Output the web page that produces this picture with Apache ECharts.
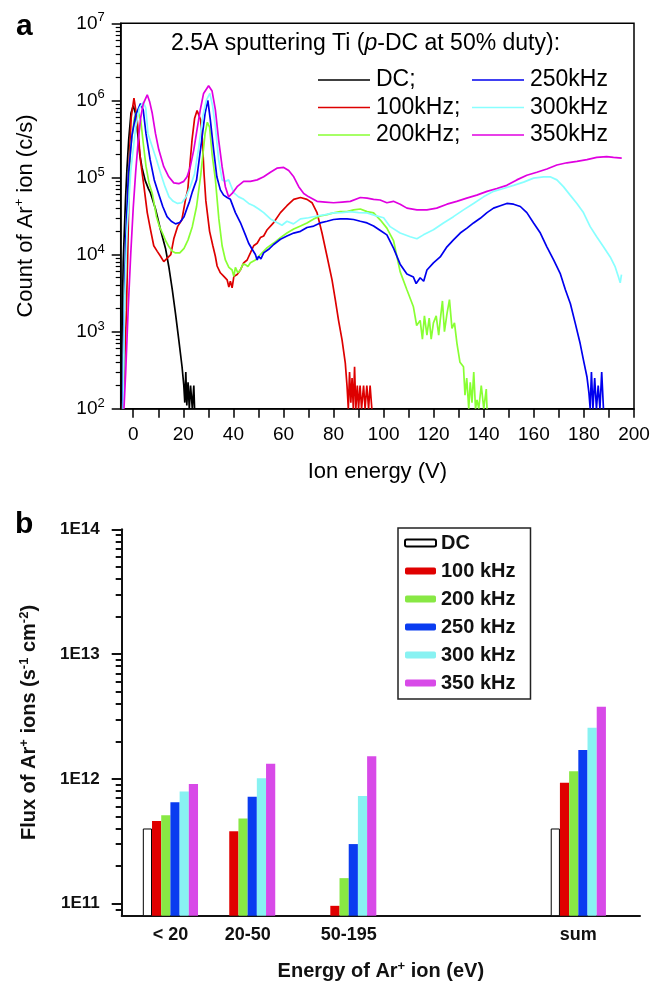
<!DOCTYPE html>
<html><head><meta charset="utf-8">
<script src="https://cdn.jsdelivr.net/npm/echarts@6/dist/echarts.min.js"></script>
<style>html,body{margin:0;padding:0;background:#fff}#c{width:662px;height:986px}</style>
</head><body><div id="c"></div>
<script>
const FONT = '"Liberation Sans", Arial, sans-serif';

// ---------- panel a: ion energy distributions ----------
const energyLabelValues = [0, 20, 40, 60, 80, 100, 120, 140, 160, 180, 200];
const energyTickValues = [0, 10, 20, 30, 40, 50, 60, 70, 80, 90, 100, 110, 120, 130, 140, 150, 160, 170, 180, 190, 200];
const countTickValues = [1e2, 1e3, 1e4, 1e5, 1e6, 1e7];

const dcData = [[-4.8,100],[-4.4,1.5e3],[-4,8e3],[-3.1,5e4],[-2.5,1.3e5],[-1.8,3.1e5],[-0.9,6.8e5],[0,8.5e5],[0.9,6.8e5],[1.8,3.7e5],[2.6,2.0e5],[3.5,1.35e5],[4.8,9.1e4],[6.1,7.1e4],[6.9,6.3e4],[8.9,3.9e4],[10.9,2.1e4],[12.9,1.2e4],[14.2,7e3],[15.6,3.5e3],[16.9,1.7e3],[18.2,780],[19.5,350],[20.2,200],[20.6,120],[21,300],[21.4,110],[21.9,220],[22.4,100],[22.9,200],[23.6,100],[24.2,200],[24.5,100]];

const f100Data = [[-4.3,100],[-3.7,200],[-2.7,1.9e3],[-2,2e4],[-1.5,2e5],[-0.8,6e5],[0.3,1.07e6],[1.6,5.6e5],[2.9,1.66e5],[4.3,7.6e4],[5.6,3.5e4],[6.9,2.1e4],[8.2,1.3e4],[9.6,1.1e4],[10.9,9.5e3],[12.2,8.1e3],[13.6,9e3],[15,1e4],[16.2,1.6e4],[17.7,2.3e4],[19.4,2.8e4],[20.9,5.2e4],[21.8,7e4],[22.6,1.4e5],[23.5,3.1e5],[24.5,5.8e5],[25.5,7.4e5],[26.9,5.6e5],[27.6,3.1e5],[28.3,1.1e5],[29,5e4],[30.5,2e4],[31.8,1.3e4],[32.8,9.5e3],[33.5,7.1e3],[34.8,5.8e3],[36.2,5.2e3],[37.5,4.7e3],[38.2,3.8e3],[38.8,4.5e3],[39.5,3.7e3],[40.2,5.2e3],[41.5,5.5e3],[42.8,6.3e3],[44.1,7.8e3],[45.5,8.5e3],[46.8,1.05e4],[48.1,1.3e4],[49.5,1.4e4],[50.8,1.66e4],[52.1,1.74e4],[53.5,2.1e4],[56.1,2.6e4],[58.8,3.5e4],[61.4,4.3e4],[64.1,5.2e4],[66.8,5.5e4],[69.4,5.2e4],[71.4,4.7e4],[73.4,3.5e4],[75.4,1.9e4],[77.4,9.5e3],[79.4,4.7e3],[80.7,2.6e3],[82,1.4e3],[83.4,780],[84.7,390],[85.4,195],[85.9,100],[86.4,300],[86.9,120],[87.4,250],[87.9,100],[88.4,350],[88.9,100],[89.5,200],[90,100],[90.6,200],[91.2,100],[92,200],[92.6,100],[93.3,200],[94,100],[94.6,200],[95.3,100]];

const f200Data = [[-4.2,100],[-3.5,3e3],[-2.5,4e4],[-1,2.5e5],[0.5,6e5],[1.8,7.5e5],[3,5.5e5],[4,2.8e5],[5.1,1.4e5],[6.3,8.5e4],[7.6,6.2e4],[9.3,3.1e4],[10.5,2.3e4],[11.8,1.86e4],[13,1.5e4],[14.3,1.26e4],[15.6,1.1e4],[16.9,1.05e4],[18.6,1.05e4],[20.3,1.2e4],[21.9,1.55e4],[23.6,2.3e4],[25.3,4.2e4],[27,1.1e5],[28.7,3.7e5],[29.6,5.2e5],[30.5,4.5e5],[31.5,2e5],[32.8,9.5e4],[34.2,2.9e4],[35.5,1.3e4],[36.8,8.5e3],[38.2,6.8e3],[39.5,6.3e3],[40.2,5.2e3],[40.8,6.8e3],[41.8,5.8e3],[42.8,6.3e3],[43.8,7.5e3],[44.8,7.4e3],[45.8,7.0e3],[46.8,7.8e3],[48.8,8.5e3],[50.8,1e4],[53.5,1.23e4],[56.1,1.41e4],[58.8,1.66e4],[61.4,1.9e4],[64.1,2.14e4],[66.8,2.34e4],[69.4,2.57e4],[72.1,2.9e4],[74.7,3.16e4],[77.4,3.3e4],[80,3.47e4],[82.7,3.6e4],[85.4,3.6e4],[88,3.8e4],[90.7,3.9e4],[93.4,3.6e4],[96,3.47e4],[98.7,2.8e4],[101.3,2.2e4],[104,1.5e4],[106.6,6e3],[109.3,3.5e3],[111.9,2.1e3],[113.2,1.2e3],[114.6,1.4e3],[115.5,800],[116.3,1.6e3],[117.3,900],[118.2,1.5e3],[119,800],[119.9,1.3e3],[121,1.6e3],[122,900],[122.6,1.4e3],[123.5,2.5e3],[124.3,1e3],[125.3,1.7e3],[126.3,2.6e3],[127.3,1.1e3],[128.3,1.3e3],[129.3,700],[130.5,400],[131.9,350],[132.5,150],[133.2,250],[134,100],[134.6,220],[135.3,120],[136,300],[136.7,100],[137.3,130],[138,100],[139,200],[140,100],[141,180],[141.3,100]];

const f250Data = [[-4.2,100],[-3.7,1.4e3],[-3,1.5e4],[-2,1e5],[-0.5,3.5e5],[1,6.5e5],[2.9,9.1e5],[4,7.5e5],[5.1,3.7e5],[6.75,1.7e5],[8.4,9.3e4],[10.1,6.2e4],[11.8,4.2e4],[13.5,3.1e4],[15.2,2.7e4],[16.9,2.5e4],[18.6,2.6e4],[20.3,3.1e4],[21.5,4e4],[22.5,4.9e4],[23.6,6.5e4],[25.3,9.3e4],[27,2.5e5],[28.7,6.8e5],[29.8,1e6],[30.8,5.6e5],[32.1,2.3e5],[33.4,1.02e5],[34.8,6.9e4],[36.1,5.9e4],[37.5,5.5e4],[38.8,5.2e4],[40.8,3.5e4],[42.8,2.6e4],[44.8,1.8e4],[46.1,1.4e4],[47.5,1.17e4],[48.8,1e4],[49.5,8.5e3],[50.1,9.5e3],[51,8.8e3],[52.1,1.05e4],[54.1,1.17e4],[56.1,1.35e4],[58.8,1.58e4],[61.4,1.74e4],[64.1,1.9e4],[66.8,2e4],[69.4,2.24e4],[72.1,2.34e4],[74.7,2.57e4],[77.4,2.7e4],[80,2.85e4],[82.7,2.9e4],[85.4,2.9e4],[88,2.85e4],[90.7,2.7e4],[93.4,2.57e4],[96,2.34e4],[98.7,2.05e4],[101.3,1.8e4],[104,1.2e4],[106.6,7.5e3],[109.3,5.6e3],[111.9,5.1e3],[113,4.2e3],[114.6,5e3],[116,4.5e3],[117.3,6.3e3],[119.9,7.8e3],[122.6,9.3e3],[125.3,1.26e4],[127.9,1.55e4],[130.6,1.9e4],[133.3,2.2e4],[135.9,2.57e4],[138.6,2.95e4],[141.3,3.5e4],[143.9,4e4],[146.6,4.3e4],[149.2,4.6e4],[151.9,4.5e4],[154.6,4.2e4],[157.2,3.5e4],[159.9,2.57e4],[162.6,1.9e4],[165.2,1.26e4],[167.9,8.5e3],[170.6,5.6e3],[172.6,3.5e3],[174.6,2.3e3],[176.5,1.3e3],[178.5,700],[179.8,430],[181.2,260],[182,160],[182.5,100],[183,300],[183.6,100],[184.3,250],[185,100],[185.7,200],[186.4,100],[187.1,300],[187.8,100]];

const f300Data = [[-4,100],[-3.5,2e3],[-2.5,2e4],[-1,1.2e5],[1,4.5e5],[2.5,8e5],[4,9.5e5],[5,8e5],[5.9,3.7e5],[7.6,2.5e5],[9.3,1.7e5],[11,1.12e5],[12.7,7.6e4],[14.3,5.6e4],[16,4.9e4],[17.7,4.6e4],[19.4,4.7e4],[21.1,5.6e4],[22.8,7.6e4],[24.5,1.12e5],[26.2,2.5e5],[27.8,6.2e5],[29.2,1e6],[30.6,1.23e6],[31.7,8.5e5],[32.8,4.6e5],[34.1,1.7e5],[35.5,9.3e4],[36.8,8.9e4],[38.1,9.3e4],[40.2,6.3e4],[42.1,5.6e4],[44.1,5.2e4],[46.1,4.6e4],[48.1,4.3e4],[50.1,3.9e4],[52.1,3.5e4],[54.8,2.9e4],[57.4,2.6e4],[59.4,2.4e4],[61.4,2.7e4],[64,2.5e4],[66.8,2.9e4],[70,3e4],[73.4,3.16e4],[76.7,3.3e4],[80,3.47e4],[83.4,3.5e4],[86.7,3.6e4],[90,3.5e4],[93.4,3.47e4],[96.7,3.2e4],[100,3e4],[102.6,2.3e4],[106.6,1.9e4],[110.6,1.7e4],[113.3,1.6e4],[115.9,1.8e4],[119.9,2.1e4],[123.9,2.57e4],[127.9,3.1e4],[131.9,3.8e4],[135.9,4.6e4],[139.9,5.6e4],[143.9,6.6e4],[147.9,7.2e4],[151.9,7.9e4],[155.9,8.7e4],[159.9,9.8e4],[163.9,1.02e5],[166.5,1.02e5],[169.2,9.3e4],[171.8,7.6e4],[174.5,5.9e4],[177.2,4.6e4],[179.8,3.5e4],[182.5,2.3e4],[185.1,1.7e4],[187.8,1.26e4],[190.5,9.3e3],[192.5,6.9e3],[193.8,5.1e3],[194.5,4.3e3],[195,5.5e3]];

const f350Data = [[-3.7,100],[-3,300],[-2,2e3],[-1,1e4],[0,4e4],[1,1.2e5],[2,3e5],[3,6e5],[4,9e5],[5.6,1.18e6],[6.6,9.5e5],[7.6,6.8e5],[8.9,3.7e5],[10.2,2.3e5],[12.2,1.38e5],[14.2,1.02e5],[16.2,8.5e4],[18.2,8.3e4],[20.2,8.9e4],[21.5,1.02e5],[22.8,1.38e5],[24.2,2.3e5],[25.5,4.2e5],[26.8,7.6e5],[28.1,1.23e6],[30.1,1.55e6],[31.5,1.32e6],[32.8,7.6e5],[34.1,3.1e5],[35.5,1.38e5],[36.8,7.6e4],[38.1,5.6e4],[39.5,6.2e4],[41.5,7.6e4],[44.1,8.9e4],[46.8,8.9e4],[49.5,9.3e4],[52.1,1.02e5],[54.8,1.17e5],[57.4,1.32e5],[60.1,1.35e5],[62.1,1.23e5],[64.1,1.02e5],[66.1,7.6e4],[68.1,6.2e4],[70.1,5.6e4],[73.4,4.9e4],[76.7,4.8e4],[80,4.7e4],[83.4,4.8e4],[86.7,4.9e4],[90.7,5.5e4],[93.4,5.4e4],[96,5.2e4],[98.6,5.1e4],[101.3,4.7e4],[103.9,4.9e4],[106.6,4.5e4],[109.3,4e4],[113.3,3.8e4],[117.3,3.8e4],[121.2,4e4],[125.3,4.5e4],[129.2,4.9e4],[133.2,5.4e4],[137.2,5.9e4],[141.3,6.6e4],[145.2,7.2e4],[149.2,7.9e4],[153.2,9.3e4],[157.2,1.07e5],[161.2,1.17e5],[165.2,1.29e5],[169.2,1.45e5],[173.2,1.55e5],[177.2,1.62e5],[181.2,1.7e5],[185.1,1.82e5],[189.1,1.86e5],[191.8,1.82e5],[195.1,1.78e5]];

const lineNames = ['DC;', '100kHz;', '200kHz;', '250kHz', '300kHz', '350kHz'];
const lineColors = ['#000000', '#dd0000', '#88ff33', '#0000ee', '#88ffff', '#e000e0'];
const lineData = [dcData, f100Data, f200Data, f250Data, f300Data, f350Data];

// ---------- panel b: flux per energy window ----------
const groupNames = ['< 20', '20-50', '50-195', 'sum'];
const groupPos = [1.88, 4.86, 8.76, 17.62];
const fluxDC = [4.0e11, null, null, 4.0e11];
const flux100 = [4.6e11, 3.8e11, 9.6e10, 9.3e11];
const flux200 = [5.1e11, 4.8e11, 1.6e11, 1.15e12];
const flux250 = [6.5e11, 7.2e11, 3.0e11, 1.7e12];
const flux300 = [7.9e11, 1.01e12, 7.3e11, 2.57e12];
const flux350 = [9.1e11, 1.32e12, 1.52e12, 3.78e12];
const fluxTickValues = [1e11, 1e12, 1e13, 1e14];

const barNames = ['DC', '100 kHz', '200 kHz', '250 kHz', '300 kHz', '350 kHz'];
const barColors = ['#ffffff', '#e00000', '#88e844', '#0a3cf0', '#88f2f2', '#d84ae8'];
const barData = [fluxDC, flux100, flux200, flux250, flux300, flux350];

function logMinor(fromExp, toExp) {
  const out = [];
  for (let e = fromExp; e < toExp; e++) for (let m = 2; m <= 9; m++) out.push(m * Math.pow(10, e));
  return out;
}
const countMinor = logMinor(2, 7);
const fluxMinor = [9e10].concat(logMinor(11, 14));

const chart = echarts.init(document.getElementById('c'), null, { renderer: 'canvas' });

const supRich = { sup: { fontSize: 13, verticalAlign: 'top', lineHeight: 13, fontFamily: FONT, color: '#000' } };
const supRichB = { sup: { fontSize: 13, verticalAlign: 'top', lineHeight: 13, fontFamily: FONT, fontWeight: 'bold', color: '#111' } };

const series = [];
lineData.forEach((d, i) => {
  series.push({
    type: 'line', name: lineNames[i], xAxisIndex: 0, yAxisIndex: 0,
    data: d, symbol: 'none', clip: true,
    lineStyle: { color: lineColors[i], width: 1.7 }, itemStyle: { color: lineColors[i] },
    animation: false
  });
});
barData.forEach((vals, i) => {
  series.push({
    type: 'bar', name: barNames[i], xAxisIndex: 2, yAxisIndex: 2,
    data: groupPos.map((x, k) => [x, vals[k] == null ? '-' : vals[k]]),
    barWidth: 9.2, barGap: '0%', clip: true,
    itemStyle: i === 0 ? { color: '#ffffff', borderColor: '#000', borderWidth: 1 } : { color: barColors[i], borderWidth: 0 },
    animation: false
  });
});

const option = {
  animation: false,
  backgroundColor: '#fff',
  textStyle: { fontFamily: FONT },
  title: [
    { text: 'a', left: 16, top: 12, padding: 0, textStyle: { fontSize: 30, fontWeight: 'bold', color: '#000', fontFamily: FONT } },
    { text: 'b', left: 15, top: 510, padding: 0, textStyle: { fontSize: 30, fontWeight: 'bold', color: '#000', fontFamily: FONT } },
    { text: '2.5A sputtering Ti ({it|p}-DC at 50% duty):', left: 171, top: 32, padding: 0,
      textStyle: { fontSize: 23, fontWeight: 'normal', color: '#000', fontFamily: FONT,
        rich: { it: { fontStyle: 'italic', fontSize: 23, fontFamily: FONT, color: '#000' } } } }
  ],
  legend: [
    { data: lineNames.slice(0, 3), orient: 'vertical', left: 318, top: 68.5, padding: 0, itemGap: 4.5,
      itemWidth: 52, itemHeight: 1.6, icon: 'rect', selectedMode: false,
      textStyle: { fontSize: 23, color: '#000', fontFamily: FONT, padding: [0, 0, 0, 1] } },
    { data: lineNames.slice(3), orient: 'vertical', left: 472, top: 68.5, padding: 0, itemGap: 4.5,
      itemWidth: 52, itemHeight: 1.6, icon: 'rect', selectedMode: false,
      textStyle: { fontSize: 23, color: '#000', fontFamily: FONT, padding: [0, 0, 0, 1] } },
    { data: barNames, orient: 'vertical', left: 398, top: 528, padding: [5, 15, 6, 6], itemGap: 8,
      itemWidth: 31, itemHeight: 7, icon: 'roundRect', selectedMode: false,
      borderColor: '#222', borderWidth: 1.5, backgroundColor: '#fff',
      textStyle: { fontSize: 20, fontWeight: 'bold', color: '#111', fontFamily: FONT } }
  ],
  grid: [
    { left: 120.7, top: 23.3, width: 513.3, height: 385.4, show: true, borderColor: '#000', borderWidth: 1.5, backgroundColor: 'transparent', containLabel: false },
    { left: 121.7, top: 529.3, width: 518.3, height: 386.4, show: false, containLabel: false }
  ],
  xAxis: [
    { type: 'value', gridIndex: 0, min: -5, max: 200, position: 'bottom',
      name: 'Ion energy (V)', nameLocation: 'middle', nameGap: 52,
      nameTextStyle: { fontSize: 22, color: '#000', fontFamily: FONT },
      axisLine: { show: true, onZero: false, lineStyle: { color: '#000', width: 1.5 } },
      axisTick: { show: true, customValues: energyTickValues, length: 9, inside: false, lineStyle: { color: '#000', width: 1.5 } },
      axisLabel: { show: true, customValues: energyLabelValues, margin: 17, fontSize: 19, color: '#000', fontFamily: FONT },
      splitLine: { show: false } },
    { type: 'value', gridIndex: 0, min: -5, max: 200, position: 'top', show: false },
    { type: 'value', gridIndex: 1, min: 0, max: 20, position: 'bottom',
      name: 'Energy of Ar{sup|+} ion (eV)', nameLocation: 'middle', nameGap: 44,
      nameTextStyle: { fontSize: 20, fontWeight: 'bold', color: '#111', fontFamily: FONT, lineHeight: 24, rich: supRichB },
      axisLine: { show: true, onZero: false, lineStyle: { color: '#111', width: 2 } },
      axisTick: { show: false },
      axisLabel: { show: true, customValues: groupPos, margin: 10, fontSize: 18, fontWeight: 'bold', color: '#111', fontFamily: FONT,
        formatter: v => { const k = groupPos.indexOf(v); return k >= 0 ? groupNames[k] : ''; } },
      splitLine: { show: false } }
  ],
  yAxis: [
    { type: 'log', gridIndex: 0, min: 1e2, max: 1e7, logBase: 10,
      name: 'Count of Ar{sup|+} ion (c/s)', nameLocation: 'middle', nameGap: 82, nameRotate: 90,
      nameTextStyle: { fontSize: 22, color: '#000', fontFamily: FONT, lineHeight: 26, rich: supRich },
      axisLine: { show: true, onZero: false, lineStyle: { color: '#000', width: 1.5 } },
      axisTick: { show: true, customValues: countTickValues, length: 9, lineStyle: { color: '#000', width: 1.5 } },
      axisLabel: { show: true, customValues: countTickValues, margin: 16, color: '#000', fontFamily: FONT,
        formatter: v => '{b|10}{s|' + Math.round(Math.log10(v)) + '}',
        rich: { b: { fontSize: 19, lineHeight: 24, fontFamily: FONT, color: '#000' },
                s: { fontSize: 13, lineHeight: 13, verticalAlign: 'top', fontFamily: FONT, color: '#000' } } },
      splitLine: { show: false } },
    { type: 'log', gridIndex: 0, min: 1e2, max: 1e7, logBase: 10, position: 'left',
      axisLine: { show: false, onZero: false },
      axisTick: { show: true, customValues: countMinor, length: 5, lineStyle: { color: '#000', width: 1.2 } },
      axisLabel: { show: false }, splitLine: { show: false } },
    { type: 'log', gridIndex: 1, min: 8e10, max: 1e14, logBase: 10,
      name: 'Flux of Ar{sup|+} ions (s{sup|-1} cm{sup|-2})', nameLocation: 'middle', nameGap: 80, nameRotate: 90,
      nameTextStyle: { fontSize: 20, fontWeight: 'bold', color: '#111', fontFamily: FONT, lineHeight: 24, rich: supRichB },
      axisLine: { show: true, onZero: false, lineStyle: { color: '#111', width: 2 } },
      axisTick: { show: true, customValues: fluxTickValues, length: 10, lineStyle: { color: '#111', width: 2 } },
      axisLabel: { show: true, customValues: fluxTickValues, margin: 22, fontSize: 17, fontWeight: 'bold', color: '#111', fontFamily: FONT,
        formatter: v => '1E' + Math.round(Math.log10(v)) },
      splitLine: { show: false } },
    { type: 'log', gridIndex: 1, min: 8e10, max: 1e14, logBase: 10, position: 'left',
      axisLine: { show: false, onZero: false },
      axisTick: { show: true, customValues: fluxMinor, length: 6, lineStyle: { color: '#111', width: 2 } },
      axisLabel: { show: false }, splitLine: { show: false } }
  ],
  series: series
};
chart.setOption(option);
</script>
</body></html>
